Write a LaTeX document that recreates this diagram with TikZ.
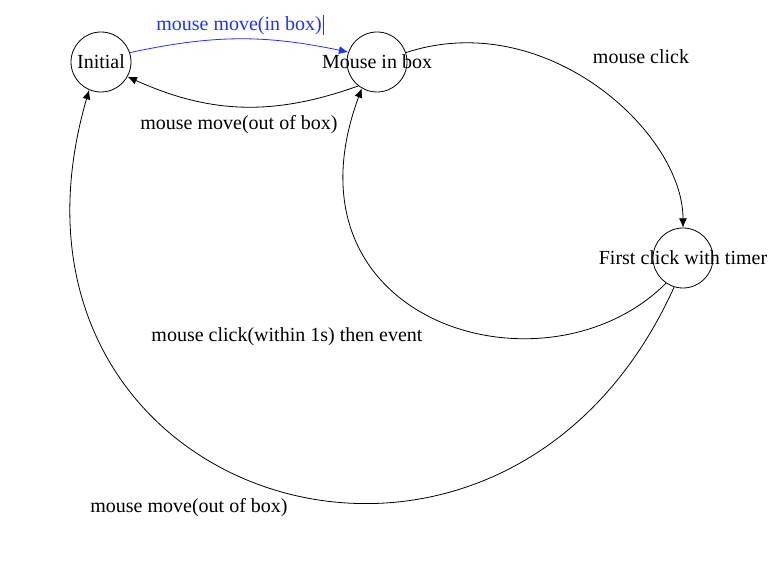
\documentclass[tikz,border=0pt]{standalone}
\usepackage{fontspec}
\setmainfont{Liberation Serif}
\usepackage{tikz}
\usetikzlibrary{arrows.meta}

\definecolor{editblue}{RGB}{30,50,255}

\tikzset{
  stnode/.style = {circle, draw, line width=0.6pt, minimum size=45pt, inner sep=0pt},
  trans/.style  = {line width=0.6pt, -{Latex[length=7pt,width=6pt]}},
  lbl/.style    = {inner sep=0pt, font=\fontsize{15}{17}\selectfont}
}

\begin{document}
\begin{tikzpicture}[x=0.75pt, y=0.75pt, every label/.style={lbl}]
      \useasboundingbox (0,0) rectangle (772,564);
      % states
      \node [stnode, label=center:Initial] (init) at (101,502) {};
      \node [stnode, label=center:Mouse in box] (inbox) at (377,502) {};
      \node [stnode, label=center:First click with timer] (first) at (683,306) {};
      % transitions
      \draw [trans, editblue] (init.18) to [bend left=12] (inbox.161);
      \draw [trans] (inbox.232) to [bend left=22] (init.331);
      \draw [trans] (inbox.18) .. controls +(140,46) and +(0,95) .. (first.north);
      \draw [trans] (first.236) .. controls +(-120,-120) and +(-87,-235) .. (inbox.240);
      \draw [trans] (first.253) .. controls +(-174,-385) and +(-120,-413) .. (init.247);
      % labels
      \node [lbl, text=editblue] (l-in) at (240,538.5)
        {mouse move(in box)\hspace{0.8pt}\rule[-3.5pt]{0.6pt}{15pt}};
      \node [lbl] (l-out) at (239,439.5) {mouse move(out of box)};
      \node [lbl] (l-click) at (641,507.5) {mouse click};
      \node [lbl] (l-event) at (287,227.5) {mouse click(within 1s) then event};
      \node [lbl] (l-reset) at (189,56.5) {mouse move(out of box)};
\end{tikzpicture}
\end{document}
